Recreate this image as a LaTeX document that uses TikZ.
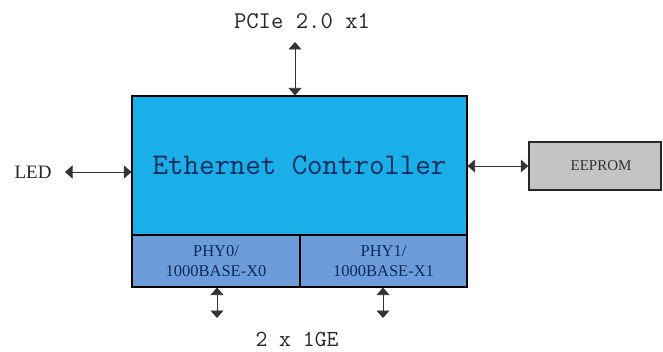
\documentclass[tikz,border=0pt]{standalone}
\usepackage{fontspec}
\setmainfont{Liberation Serif}
\usetikzlibrary{arrows.meta}
\definecolor{ctrlblue}{HTML}{1AAFE8}
\definecolor{phyblue}{HTML}{6D9CDB}
\definecolor{romgray}{HTML}{C4C4C4}
\definecolor{inktext}{HTML}{0E2A5C}
\tikzset{
  block/.style={draw=black, line width=1.1pt, inner sep=0pt, text=inktext},
  link/.style={draw=black!80, line width=0.8pt,
    {Triangle[width=13pt,length=7.5pt]}-{Triangle[width=13pt,length=7.5pt]}},
  lbl/.style={inner sep=0pt, text=black!85}
}
\begin{document}
\begin{tikzpicture}[x=1pt,y=-1pt]
\useasboundingbox (0,0) rectangle (663,352);

% controller and its two PHY ports
\node[block, fill=ctrlblue, minimum width=335pt, minimum height=139pt,
      font=\ttfamily\fontsize{30}{34}\selectfont] (ctrl) at (299.5,165.5) {Ethernet Controller};
\node[block, fill=phyblue, minimum width=168pt, minimum height=52pt, align=center,
      font=\fontsize{16.5}{20}\selectfont] (phy0) at (216,261) {PHY0/\\1000BASE-X0};
\node[block, fill=phyblue, minimum width=167pt, minimum height=52pt, align=center,
      font=\fontsize{16.5}{20}\selectfont] (phy1) at (383.5,261) {PHY1/\\1000BASE-X1};

% serial EEPROM
\node[draw=black!85, line width=1.5pt, fill=romgray, minimum width=132pt, minimum height=48pt,
      inner sep=0pt, text=black!80, font=\fontsize{15}{18}\selectfont] (rom) at (595,166) {\hspace*{12pt}EEPROM};

% outside labels
\node[lbl, font=\ttfamily\fontsize{24}{28}\selectfont] (pcie) at (302,21) {PCIe 2.0 x1};
\node[lbl, font=\fontsize{19}{22}\selectfont] (led) at (33,172) {LED};
\node[lbl, anchor=base, font=\ttfamily\fontsize{23}{26}\selectfont] (ge) at (297,346) {2 x 1GE};

% free ends of the connectors
\coordinate (pcieend) at (295,42);
\coordinate (ledend) at (65,172);
\coordinate (ge0end) at (217,318);
\coordinate (ge1end) at (383,318);

% connectors
\draw[link] (pcieend) -- (pcieend |- ctrl.north);
\draw[link] (ledend) -- (ledend -| ctrl.west);
\draw[link] (ctrl.east |- rom.west) -- (rom.west);
\draw[link] (ge0end |- phy0.south) -- (ge0end);
\draw[link] (ge1end |- phy1.south) -- (ge1end);
\end{tikzpicture}
\end{document}
